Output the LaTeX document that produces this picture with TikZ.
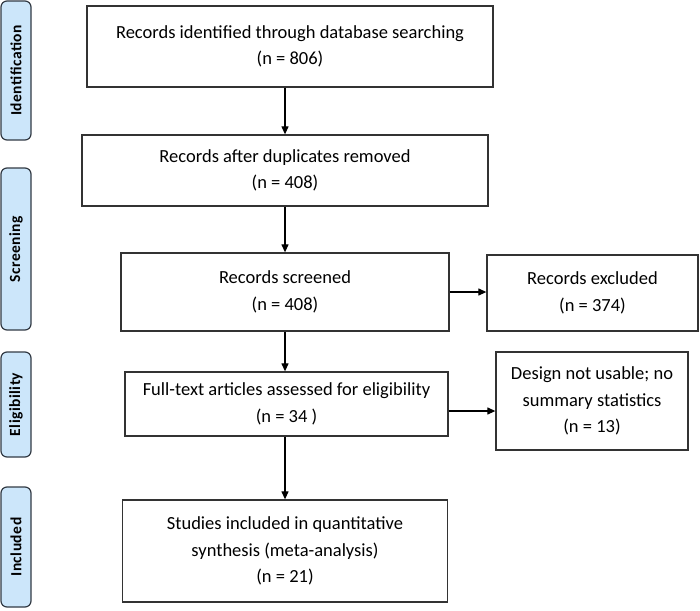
\documentclass[tikz,border=0pt]{standalone}
\usepackage{fontspec}
\setmainfont{Carlito}
\usetikzlibrary{arrows.meta}
\definecolor{lblfill}{RGB}{204,230,250}
\definecolor{lbldraw}{RGB}{50,58,68}
\begin{document}
\begin{tikzpicture}[x=1pt,y=-1pt,
  box/.style={draw=black!80,line width=1.3pt,fill=white,align=center,inner sep=0pt,
    font=\fontsize{18.5}{26.5}\selectfont},
  lbl/.style={draw=lbldraw,fill=lblfill,rounded corners=6pt,line width=1.2pt,inner sep=0pt,
    rotate=90,minimum height=30pt,font=\fontsize{15.5}{18}\bfseries\addfontfeatures{LetterSpace=3}\selectfont},
  arr/.style={line width=1.2pt,-{Triangle[length=8pt,width=7pt]}}]
\useasboundingbox (0,0) rectangle (700,610);
% stage labels
\node[lbl,minimum width=139pt] (lid) at (16,70.5) {Identification};
\node[lbl,minimum width=162pt] (lsc) at (16,249) {Screening};
\node[lbl,minimum width=105pt] (lel) at (16,404.5) {Eligibility};
\node[lbl,minimum width=120pt] (lin) at (16,547) {Included};
% boxes
\node[box,minimum width=406pt,minimum height=81pt] (b1) at (290,46.5)
  {Records identified through database searching\\(n = 806)};
\node[box,minimum width=406pt,minimum height=71pt] (b2) at (285,170.5)
  {Records after duplicates removed\\(n = 408)};
\node[box,minimum width=328pt,minimum height=78pt] (b3) at (285,292)
  {Records screened\\(n = 408)};
\node[box,minimum width=211pt,minimum height=76pt] (ex) at (592.5,293)
  {Records excluded\\(n = 374)};
\node[box,minimum width=323pt,minimum height=64pt] (b4) at (286.5,404)
  {Full-text articles assessed for eligibility\\(n = 34 )};
\node[box,minimum width=192pt,minimum height=98pt] (ds) at (592,401)
  {Design not usable; no\\summary statistics\\(n = 13)};
\node[box,minimum width=325pt,minimum height=102pt] (b5) at (285,551)
  {Studies included in quantitative\\synthesis (meta-analysis)\\(n = 21)};
% arrows
\draw[arr] (b1.south -| b2.north) -- (b2.north);
\draw[arr] (b2.south) -- (b3.north);
\draw[arr] (b3.south) -- (b3.south |- b4.north);
\draw[arr] (b4.south -| b5.north) -- (b5.north);
\draw[arr] (b3.east) -- (b3.east -| ex.west);
\coordinate (a4) at ([yshift=-7pt]b4.east);
\draw[arr] (a4) -- (a4 -| ds.west);
\end{tikzpicture}
\end{document}
